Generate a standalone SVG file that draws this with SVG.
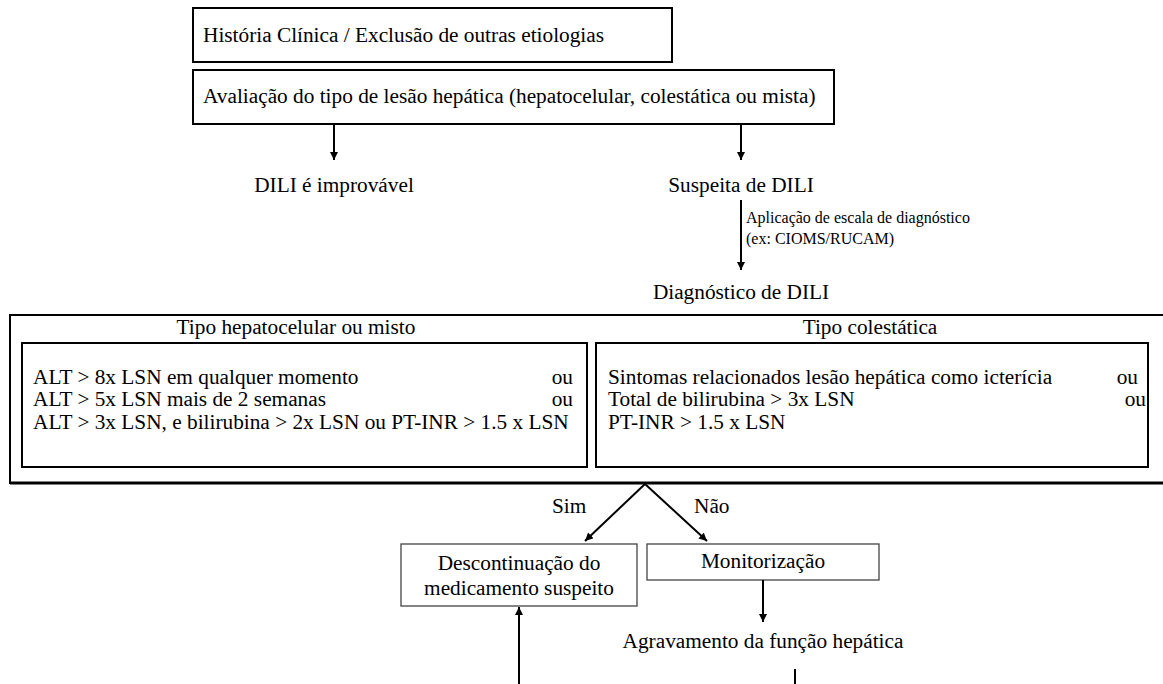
<svg xmlns="http://www.w3.org/2000/svg" width="1163" height="684" viewBox="0 0 1163 684">
<defs>
<marker id="ah" viewBox="0 0 10 10" refX="10" refY="5" markerWidth="9" markerHeight="8" markerUnits="userSpaceOnUse" orient="auto">
<path d="M0,0 L10,5 L0,10 z" fill="#000"/>
</marker>
</defs>
<style>
text{font-family:"Liberation Serif","Times New Roman",serif;fill:#000;font-size:21.3px}
.sm{font-size:16px}
.box{fill:#fff;stroke:#000;stroke-width:2}
.thin{fill:#fff;stroke:#444;stroke-width:1.3}
.ln{stroke:#000;stroke-width:2;fill:none}
.mid{text-anchor:middle}
.end{text-anchor:end}
</style>
<rect width="1163" height="684" fill="#fff"/>
<g id="outer">
<rect class="box" x="10" y="315" width="1160" height="168"/>
<line x1="10" y1="483" x2="1163" y2="483" stroke="#000" stroke-width="3"/>
<text class="mid" x="296" y="334">Tipo hepatocelular ou misto</text>
<text class="mid" x="870" y="334">Tipo colestática</text>
</g>
<g id="historia">
<rect class="box" x="193" y="8" width="479" height="54"/>
<text x="203" y="42">História Clínica / Exclusão de outras etiologias</text>
</g>
<g id="avaliacao">
<rect class="box" x="193" y="70" width="641" height="54"/>
<text x="203" y="103">Avaliação do tipo de lesão hepática (hepatocelular, colestática ou mista)</text>
</g>
<g id="improvavel"><text class="mid" x="334" y="192">DILI é improvável</text></g>
<g id="suspeita"><text class="mid" x="741" y="192">Suspeita de DILI</text></g>
<g id="diagnostico"><text class="mid" x="741" y="299">Diagnóstico de DILI</text></g>
<g id="hepatocelular">
<rect class="box" x="22" y="343" width="565" height="124"/>
<text x="33" y="384">ALT &gt; 8x LSN em qualquer momento</text>
<text class="end" x="573" y="384">ou</text>
<text x="33" y="406">ALT &gt; 5x LSN mais de 2 semanas</text>
<text class="end" x="573" y="406">ou</text>
<text x="33" y="429">ALT &gt; 3x LSN, e bilirubina &gt; 2x LSN ou PT-INR &gt; 1.5 x LSN</text>
</g>
<g id="colestatica">
<rect class="box" x="596" y="343" width="552" height="124"/>
<text x="608" y="384">Sintomas relacionados lesão hepática como icterícia</text>
<text class="end" x="1138" y="384">ou</text>
<text x="608" y="406">Total de bilirubina &gt; 3x LSN</text>
<text class="end" x="1146" y="406">ou</text>
<text x="608" y="429">PT-INR &gt; 1.5 x LSN</text>
</g>
<g id="descontinuacao">
<rect class="thin" x="401" y="544" width="236" height="62"/>
<text class="mid" x="519" y="570">Descontinuação do</text>
<text class="mid" x="519" y="595">medicamento suspeito</text>
</g>
<g id="monitorizacao">
<rect class="thin" x="647" y="544" width="232" height="36"/>
<text class="mid" x="763" y="568">Monitorização</text>
</g>
<g id="agravamento"><text class="mid" x="763" y="648">Agravamento da função hepática</text></g>
<g id="connectors">
<line class="ln" x1="334" y1="125" x2="334" y2="160" marker-end="url(#ah)"/>
<line class="ln" x1="741" y1="125" x2="741" y2="160" marker-end="url(#ah)"/>
<line class="ln" x1="741" y1="200" x2="741" y2="270" marker-end="url(#ah)"/>
<text class="sm" x="746" y="223">Aplicação de escala de diagnóstico</text>
<text class="sm" x="746" y="244">(ex: CIOMS/RUCAM)</text>
<line class="ln" x1="645" y1="484" x2="585" y2="541" marker-end="url(#ah)"/>
<line class="ln" x1="645" y1="484" x2="707" y2="541" marker-end="url(#ah)"/>
<text x="552" y="513">Sim</text>
<text x="694" y="513">Não</text>
<line class="ln" x1="763" y1="580" x2="763" y2="622" marker-end="url(#ah)"/>
<line class="ln" x1="795" y1="669" x2="795" y2="684"/>
<line class="ln" x1="519" y1="684" x2="519" y2="607" marker-end="url(#ah)"/>
</g>
</svg>
